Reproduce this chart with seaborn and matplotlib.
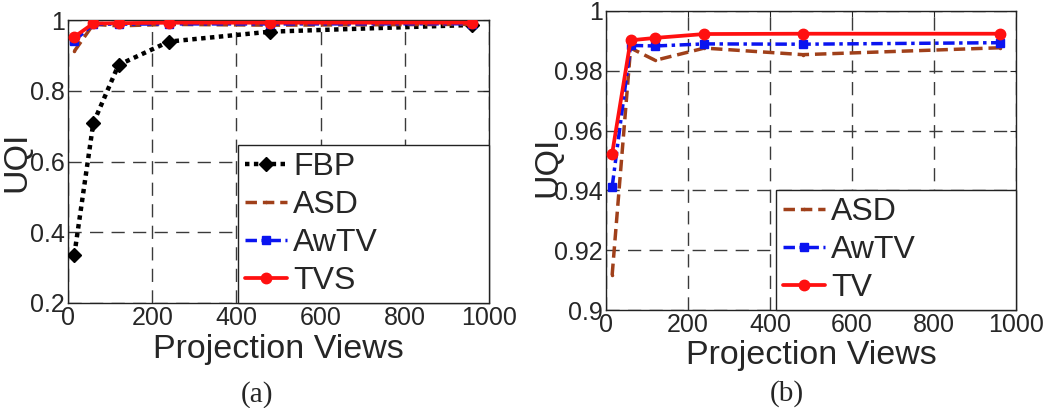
import numpy as np
import pandas as pd
import matplotlib
matplotlib.use("Agg")
import matplotlib.pyplot as plt
import seaborn as sns

# Datos (UQI frente a numero de proyecciones).
vistas = [15, 60, 120, 240, 480, 960]

uqi_fbp = [0.336, 0.708, 0.873, 0.939, 0.967, 0.986]
uqi_asd = [0.9117, 0.9876, 0.9835, 0.9876, 0.9854, 0.9877]
uqi_awtv = [0.9412, 0.9885, 0.9883, 0.9890, 0.9889, 0.9894]
uqi_tv = [0.9523, 0.9902, 0.9910, 0.9923, 0.9924, 0.9924]

etiquetas_a = ["FBP", "ASD", "AwTV", "TVS"]
etiquetas_b = ["ASD", "AwTV", "TV"]

xticks = [0, 200, 400, 600, 800, 1000]
yticks_a = [0.2, 0.4, 0.6, 0.8, 1.0]
yticks_a_txt = ["0.2", "0.4", "0.6", "0.8", "1"]
yticks_b = [0.9, 0.92, 0.94, 0.96, 0.98, 1.0]
yticks_b_txt = ["0.9", "0.92", "0.94", "0.96", "0.98", "1"]

sns.set_style("white")
plt.rcParams["font.family"] = ["Liberation Sans", "DejaVu Sans"]

# Estilos de cada metodo: color, tipo de linea, marcador, tamano.
estilos = {
    "FBP": dict(color="black", linestyle=(0, (1, 1)), linewidth=3.2,
                marker="D", markersize=7),
    "ASD": dict(color="#a0401a", linestyle=(0, (3.3, 1.7)), linewidth=2.5,
                marker=".", markersize=3),
    "AwTV": dict(color="#0a14f0", linestyle=(0, (3.3, 1.3, 1, 1.3)), linewidth=2.5,
                 marker="s", markersize=5.5),
    "TV": dict(color="#ff1010", linestyle="-", linewidth=2.7,
               marker="o", markersize=7.5),
}


def formatear_ejes(ax, yticks, yticks_txt, ylim):
    ax.set_xlim(0, 1000)
    ax.set_ylim(*ylim)
    ax.set_xticks(xticks)
    ax.set_xticklabels([str(t) for t in xticks])
    ax.set_yticks(yticks)
    ax.set_yticklabels(yticks_txt)
    ax.tick_params(direction="in", top=True, right=True, length=4,
                   labelsize=18, pad=2.5, color="#222222")
    ax.grid(True, color="#3a3a3a", linestyle=(0, (9.5, 6)), linewidth=1)
    for spine in ax.spines.values():
        spine.set_color("#222222")
        spine.set_linewidth(1)
    ax.set_xlabel("Projection Views", fontsize=24.5)
    ax.set_ylabel("UQI", fontsize=24.5)


def dibujar(ax, serie, nombre, estilo, zorder):
    df = pd.DataFrame({"vistas": vistas, "uqi": serie})
    st = estilos[estilo]
    sns.lineplot(data=df, x="vistas", y="uqi", ax=ax, label=nombre,
                 color=st["color"], linestyle=st["linestyle"],
                 linewidth=st["linewidth"], marker=st["marker"],
                 markersize=st["markersize"], markeredgecolor=st["color"],
                 markerfacecolor=st["color"], markeredgewidth=1, zorder=zorder)


fig = plt.figure(figsize=(10.5, 4.08), dpi=100)
ax1 = fig.add_axes([68 / 1050, 105 / 408, 421 / 1050, 283 / 408])
ax2 = fig.add_axes([606 / 1050, 98 / 408, 410 / 1050, 299 / 408])

# Panel (a)
dibujar(ax1, uqi_fbp, etiquetas_a[0], "FBP", 3)
dibujar(ax1, uqi_asd, etiquetas_a[1], "ASD", 4)
dibujar(ax1, uqi_awtv, etiquetas_a[2], "AwTV", 5)
dibujar(ax1, uqi_tv, etiquetas_a[3], "TV", 6)
formatear_ejes(ax1, yticks_a, yticks_a_txt, (0.2, 1.0))

# Panel (b)
dibujar(ax2, uqi_asd, etiquetas_b[0], "ASD", 4)
dibujar(ax2, uqi_awtv, etiquetas_b[1], "AwTV", 5)
dibujar(ax2, uqi_tv, etiquetas_b[2], "TV", 6)
formatear_ejes(ax2, yticks_b, yticks_b_txt, (0.9, 1.0))

ax1.yaxis.set_label_coords(-0.084, 0.5)
ax2.yaxis.set_label_coords(-0.104, 0.48)
ax1.xaxis.set_label_coords(0.5, -0.108)
ax2.xaxis.set_label_coords(0.5, -0.102)

for ax, bbox in [(ax1, (0.404, 0, 0.596, 0.558)), (ax2, (0.415, 0, 0.585, 0.398))]:
    leg = ax.legend(loc="lower left", bbox_to_anchor=bbox, mode="expand",
                    borderaxespad=0, fontsize=23, handlelength=1.3,
                    handletextpad=0.2, labelspacing=0.25, borderpad=0.22,
                    fancybox=False, framealpha=1, edgecolor="#222222")
    leg.get_frame().set_linewidth(1)
    leg.set_zorder(10)

fig.text(257 / 1050, 1 - 395 / 408, "(a)", ha="center", va="center",
         fontsize=21, family=["Liberation Serif", "DejaVu Serif"])
fig.text(787 / 1050, 1 - 394 / 408, "(b)", ha="center", va="center",
         fontsize=21, family=["Liberation Serif", "DejaVu Serif"])

fig.savefig("out.png", dpi=100)
